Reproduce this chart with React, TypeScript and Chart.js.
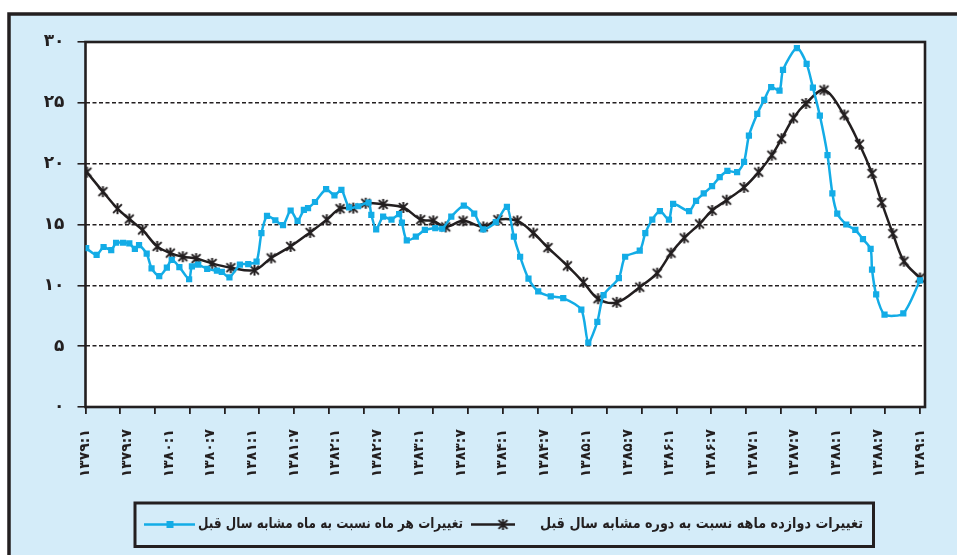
import React, { useEffect, useRef } from 'react';
import { Chart, registerables } from 'chart.js';

Chart.register(...registerables);

// ---- data ----
const xTickLabels = [
  '۱۳۷۹:۱', '۱۳۷۹:۷', '۱۳۸۰:۱', '۱۳۸۰:۷', '۱۳۸۱:۱', '۱۳۸۱:۷', '۱۳۸۲:۱',
  '۱۳۸۲:۷', '۱۳۸۳:۱', '۱۳۸۳:۷', '۱۳۸۴:۱', '۱۳۸۴:۷', '۱۳۸۵:۱', '۱۳۸۵:۷',
  '۱۳۸۶:۱', '۱۳۸۶:۷', '۱۳۸۷:۱', '۱۳۸۷:۷', '۱۳۸۸:۱', '۱۳۸۸:۷', '۱۳۸۹:۱',
];
const yTickLabels = ['۰', '۵', '۱۰', '۱۵', '۲۰', '۲۵', '۳۰'];

const monthlyName = 'تغییرات هر ماه نسبت به ماه مشابه سال قبل';
const annualName = 'تغییرات دوازده ماهه نسبت به دوره مشابه سال قبل';

// months elapsed since 1379:1
const monthlyMonths = [
  0.1, 1.6, 2.6, 3.7, 4.4, 5.4, 6.3, 7.1, 7.7, 8.8, 9.5, 10.6, 11.7, 12.4, 13.5,
  14.9, 15.3, 16.2, 17.5, 18.9, 19.6, 20.7, 22.2, 23.4, 24.6, 25.3, 26.1, 27.3,
  28.4, 29.5, 30.5, 31.4, 32.0, 33.0, 34.6, 35.8, 36.8, 37.9, 39.2, 40.7, 41.1,
  41.8, 42.8, 44.0, 45.1, 45.5, 46.2, 47.5, 48.8, 50.3, 51.3, 52.6, 54.4, 55.9,
  57.2, 59.0, 60.6, 61.6, 62.5, 63.7, 65.1, 66.9, 68.7, 71.3, 72.3, 73.6, 74.5,
  76.7, 77.6, 79.7, 80.5, 81.5, 82.6, 83.9, 84.5, 86.8, 87.8, 88.9, 90.1, 91.2,
  92.3, 93.7, 94.7, 95.4, 96.6, 97.6, 98.6, 99.8, 100.3, 102.3, 103.7, 104.6,
  105.6, 106.7, 107.4, 108.1, 109.4, 110.7, 111.8, 112.9, 113.1, 113.7, 114.9,
  117.6, 120.0,
];
const monthlyValues = [
  13.05, 12.5, 13.15, 12.9, 13.5, 13.5, 13.45, 13.0, 13.3, 12.6, 11.4, 10.75,
  11.45, 12.1, 11.5, 10.5, 11.55, 11.7, 11.35, 11.2, 11.1, 10.65, 11.7, 11.75,
  11.95, 14.3, 15.7, 15.35, 14.95, 16.15, 15.3, 16.2, 16.35, 16.85, 17.9, 17.4,
  17.85, 16.4, 16.5, 16.8, 15.8, 14.6, 15.65, 15.4, 15.85, 15.15, 13.7, 14.0,
  14.55, 14.7, 14.65, 15.65, 16.55, 15.9, 14.6, 15.2, 16.45, 14.0, 12.35, 10.55,
  9.5, 9.1, 8.95, 8.0, 5.3, 7.0, 9.2, 10.6, 12.35, 12.85, 14.3, 15.4, 16.1, 15.4,
  16.7, 16.1, 16.95, 17.55, 18.15, 18.9, 19.4, 19.3, 20.15, 22.3, 24.1, 25.25,
  26.3, 26.0, 27.7, 29.5, 28.2, 26.25, 23.95, 20.7, 17.55, 15.9, 15.0, 14.55,
  13.8, 13.0, 11.3, 9.25, 7.6, 7.7, 10.4,
];

const annualMonths = [
  0.2, 2.5, 4.6, 6.3, 8.2, 10.3, 12.2, 14.0, 15.9, 18.2, 20.9, 24.3, 26.7, 29.5,
  32.3, 34.7, 36.6, 38.5, 40.3, 42.8, 45.7, 48.2, 50.0, 51.8, 54.3, 57.2, 59.3,
  62.1, 64.4, 66.5, 69.3, 71.6, 73.7, 76.4, 79.7, 82.2, 84.2, 86.1, 88.3, 90.1,
  92.2, 94.7, 96.8, 98.7, 100.1, 101.8, 103.6, 106.2, 109.1, 111.3, 113.1, 114.5,
  116.1, 117.7, 120.0,
];
const annualValues = [
  19.3, 17.7, 16.3, 15.45, 14.55, 13.2, 12.65, 12.35, 12.2, 11.8, 11.45, 11.25,
  12.25, 13.2, 14.35, 15.4, 16.3, 16.35, 16.75, 16.65, 16.4, 15.4, 15.3, 14.8,
  15.3, 14.8, 15.4, 15.3, 14.3, 13.1, 11.6, 10.25, 8.9, 8.6, 9.85, 11.0, 12.65,
  13.9, 15.05, 16.15, 17.0, 18.05, 19.3, 20.7, 22.05, 23.75, 24.95, 26.05, 24.0,
  21.6, 19.2, 16.8, 14.25, 11.98, 10.6,
];

// ---- style ----
const BLUE = '#13ACE6';
const DARK = '#231F20';
const BG = '#D4ECF9';
const FONT = "'DejaVu Sans', sans-serif";

function makeStar(color: string) {
  const size = 13;
  const c = document.createElement('canvas');
  c.width = size;
  c.height = size;
  const g = c.getContext('2d')!;
  g.strokeStyle = color;
  g.lineWidth = 2;
  const m = size / 2;
  const r = 5.6;
  const d = 4.4;
  g.beginPath();
  g.moveTo(m, m - r);
  g.lineTo(m, m + r);
  g.moveTo(m - d, m - d);
  g.lineTo(m + d, m + d);
  g.moveTo(m + d, m - d);
  g.lineTo(m - d, m + d);
  g.stroke();
  return c;
}

const xTickValues: number[] = (() => {
  const s = new Set<number>();
  for (let v = 0; v <= 120; v += 5) s.add(v);
  for (let v = 0; v <= 120; v += 6) s.add(v);
  return Array.from(s).sort((a, b) => a - b);
})();

export default function App() {
  const ref = useRef<HTMLCanvasElement>(null);

  useEffect(() => {
    const canvas = ref.current!;
    const star = makeStar(DARK);

    const framePlugin = {
      id: 'frame',
      beforeDraw(chart: any) {
        const { ctx, width, height, chartArea: a } = chart;
        ctx.save();
        ctx.fillStyle = '#ffffff';
        ctx.fillRect(0, 0, width, height);
        ctx.fillStyle = BG;
        ctx.fillRect(9, 14, width, height);
        ctx.strokeStyle = DARK;
        ctx.lineWidth = 3.5;
        ctx.strokeRect(9, 14, width + 20, height + 20);
        ctx.fillStyle = '#ffffff';
        ctx.fillRect(a.left, a.top, a.right - a.left, a.bottom - a.top);
        ctx.restore();
      },
      beforeDatasetsDraw(chart: any) {
        const { ctx, chartArea: a } = chart;
        ctx.save();
        ctx.strokeStyle = DARK;
        ctx.lineWidth = 2.6;
        ctx.strokeRect(a.left, a.top, a.right - a.left, a.bottom - a.top);
        ctx.restore();
      },
    };

    const drawFitted = (ctx: any, text: string, right: number, cy: number, target: number) => {
      const w = ctx.measureText(text).width;
      const sx = w > target ? target / w : 1;
      ctx.save();
      ctx.translate(right, cy);
      ctx.scale(sx, 1);
      ctx.fillText(text, 0, 0);
      ctx.restore();
    };

    const legendPlugin = {
      id: 'boxLegend',
      afterDraw(chart: any) {
        const ctx = chart.ctx;
        const ds = chart.data.datasets;
        ctx.save();
        ctx.strokeStyle = DARK;
        ctx.lineWidth = 3;
        ctx.strokeRect(135, 503, 738.5, 43.5);
        const cy = 524.5;
        // item 1 : monthly (blue)
        ctx.strokeStyle = BLUE;
        ctx.lineWidth = 2.6;
        ctx.beginPath();
        ctx.moveTo(144, cy);
        ctx.lineTo(195, cy);
        ctx.stroke();
        ctx.fillStyle = BLUE;
        ctx.fillRect(170 - 3.5, cy - 3.5, 7, 7);
        // item 2 : annual (dark)
        ctx.strokeStyle = DARK;
        ctx.lineWidth = 2.6;
        ctx.beginPath();
        ctx.moveTo(471, cy);
        ctx.lineTo(515, cy);
        ctx.stroke();
        ctx.drawImage(star, 503 - star.width / 2, cy - star.height / 2);
        // texts
        ctx.font = `bold 15px ${FONT}`;
        ctx.fillStyle = DARK;
        ctx.textBaseline = 'middle';
        ctx.direction = 'rtl';
        ctx.textAlign = 'right';
        drawFitted(ctx, ds[0].label, 463, cy, 265);
        drawFitted(ctx, ds[1].label, 863, cy, 323);
        ctx.restore();
      },
    };

    const chart = new Chart(canvas, {
      type: 'line',
      data: {
        datasets: [
          {
            label: monthlyName,
            data: monthlyMonths.map((m, i) => ({ x: m, y: monthlyValues[i] })),
            borderColor: BLUE,
            backgroundColor: BLUE,
            borderWidth: 2.5,
            pointStyle: 'rect',
            pointRadius: 4.4,
            pointBorderWidth: 0,
            pointBackgroundColor: BLUE,
            tension: 0.25,
          },
          {
            label: annualName,
            data: annualMonths.map((m, i) => ({ x: m, y: annualValues[i] })),
            borderColor: DARK,
            backgroundColor: DARK,
            borderWidth: 2.5,
            pointStyle: star as any,
            pointRadius: 6,
            tension: 0.35,
          },
        ],
      },
      options: {
        animation: false,
        responsive: false,
        maintainAspectRatio: false,
        layout: { padding: { top: 42, right: 32, left: 0, bottom: 0 } },
        plugins: {
          legend: { display: false },
          tooltip: { enabled: false },
        },
        scales: {
          x: {
            type: 'linear',
            min: 0,
            max: 120.72,
            afterBuildTicks: (s: any) => {
              s.ticks = xTickValues.map((v) => ({ value: v }));
            },
            afterFit: (s: any) => {
              s.height = 148;
            },
            ticks: {
              autoSkip: false,
              maxRotation: 90,
              minRotation: 90,
              padding: 15,
              color: DARK,
              font: { family: FONT, size: 14, weight: 'bold' },
              callback: (v: any) => (v % 6 === 0 ? xTickLabels[v / 6] : ''),
            },
            grid: {
              drawOnChartArea: false,
              tickLength: 7,
              lineWidth: 1.8,
              color: (c: any) =>
                c.tick && c.tick.value % 5 === 0 ? DARK : 'rgba(0,0,0,0)',
            },
            border: { display: false },
          },
          y: {
            min: 0,
            max: 30,
            afterFit: (s: any) => {
              s.width = 85.5;
            },
            ticks: {
              stepSize: 5,
              padding: 13,
              color: DARK,
              font: { family: FONT, size: 17, weight: 'bold' },
              callback: (v: any) => yTickLabels[Math.round(v / 5)],
            },
            grid: {
              color: DARK,
              lineWidth: 1.6,
              tickLength: 8,
              tickBorderDash: [],
            },
            border: { display: false, dash: [4, 2.5] },
          },
        },
      } as any,
      plugins: [framePlugin, legendPlugin],
    });
    return () => chart.destroy();
  }, []);

  return (
    <div style={{ position: 'absolute', left: 0, top: 0, width: 957, height: 555 }}>
      <canvas ref={ref} width={957} height={555} style={{ display: 'block' }} />
    </div>
  );
}
